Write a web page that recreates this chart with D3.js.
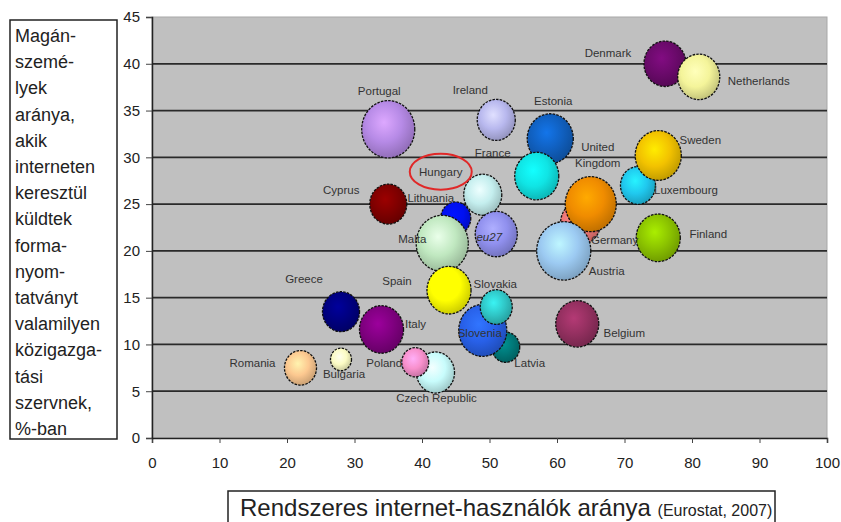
<!DOCTYPE html>
<html>
<head>
<meta charset="utf-8">
<script src="https://cdn.jsdelivr.net/npm/d3@7"></script>
<style>
  body { margin: 0; background: #fff; }
  text { font-family: "Liberation Sans", Arial, sans-serif; }
</style>
</head>
<body>
<div id="chart"></div>
<script>
// data (drawing order: later ones on top)
const countries = ["Denmark", "Netherlands", "Portugal", "Ireland", "Estonia", "France", "Luxembourg", "Sweden",
    "Germany", "United Kingdom", "Austria", "Finland", "Cyprus", "Hungary", "Lithuania", "Malta", "eu27",
    "Spain", "Greece", "Italy", "Latvia", "Slovenia", "Slovakia", "Belgium", "Romania", "Bulgaria",
    "Czech Republic", "Poland"];
const internetUsers = [76, 81, 35, 51, 59, 57, 72, 75, 63.5, 65, 61, 75, 35, 49, 45, 43, 51,
    44, 28, 34, 52.4, 49, 51, 63, 22, 28, 42, 39];
const formsSent = [40, 38.6, 33, 34, 32, 28, 27, 30.2, 23, 25, 20, 21.4, 25, 26, 23.5, 20.8, 21.8,
    15.8, 13.5, 11.6, 9.7, 11.5, 14, 12.2, 7.5, 8.4, 7, 8.1];
const bubbleSize = [441, 441, 702, 361, 529, 484, 306, 529, 400, 650, 729, 484, 342, 361, 225, 676, 441,
    484, 342, 484, 196, 576, 256, 462, 256, 110, 361, 182];
const xTicks = [0, 10, 20, 30, 40, 50, 60, 70, 80, 90, 100];
const yTicks = [0, 5, 10, 15, 20, 25, 30, 35, 40, 45];
const yTitleLines = ["Magán-", "szemé-", "lyek", "aránya,", "akik", "interneten", "keresztül", "küldtek",
    "forma-", "nyom-", "tatványt", "valamilyen", "közigazga-", "tási", "szervnek,", "%-ban"];

// styles
const colors = {
    "Denmark": "#6b0a6b", "Netherlands": "#f4f49a", "Portugal": "#b68ae6", "Ireland": "#b8b8ee",
    "Estonia": "#1060c0", "France": "#10e4e4", "Luxembourg": "#20c8ee", "Sweden": "#f2c200",
    "Germany": "#f07878", "United Kingdom": "#f08c00", "Austria": "#9ccaf2", "Finland": "#8cc400",
    "Cyprus": "#800000", "Hungary": "#c4eeee", "Lithuania": "#0010f0", "Malta": "#c0e8c0",
    "eu27": "#9090ee", "Spain": "#ffff00", "Greece": "#000080", "Italy": "#800080",
    "Latvia": "#007878", "Slovenia": "#2860e8", "Slovakia": "#30c8c8", "Belgium": "#943060",
    "Romania": "#fcc890", "Bulgaria": "#fcfcc4", "Czech Republic": "#c8fcfc", "Poland": "#f890cc"
};
// label offsets from bubble centre, px
const labelOffset = {
    "Denmark": [-57, -11], "Netherlands": [60, 4], "Portugal": [-9, -38], "Ireland": [-26, -30],
    "Estonia": [3, -38], "France": [-44, -23], "Luxembourg": [48, 5], "Sweden": [42, -15],
    "Germany": [34, 17], "United Kingdom": [7, -57], "Austria": [43, 20], "Finland": [50, -4],
    "Cyprus": [-47, -14], "Hungary": [-42, -23], "Lithuania": [-25, -20], "Malta": [-30, -4],
    "eu27": [-7, 3], "Spain": [-52, -9], "Greece": [-37, -33], "Italy": [34, -5],
    "Latvia": [24, 16], "Slovenia": [-3, 3], "Slovakia": [-1, -23], "Belgium": [47, 9],
    "Romania": [-48, -5], "Bulgaria": [3, 15], "Czech Republic": [1, 25], "Poland": [-31, 1]
};

const data = countries.map((c, i) => ({
    name: c, x: internetUsers[i], y: formsSent[i], size: bubbleSize[i], color: colors[c]
}));

const svgW = 841, svgH = 522;
const margin = {top: 17, right: 14, bottom: 84, left: 152};
const width = svgW - margin.left - margin.right;
const height = svgH - margin.top - margin.bottom;

const svg = d3.select("#chart").append("svg")
    .attr("width", svgW)
    .attr("height", svgH);

const defs = svg.append("defs");
data.forEach((d, i) => {
    let g = defs.append("radialGradient")
        .attr("id", "grad" + i)
        .attr("cx", "42%").attr("cy", "38%").attr("r", "62%");
    g.append("stop").attr("offset", "0%").attr("stop-color", d3.color(d.color).brighter(0.55));
    g.append("stop").attr("offset", "55%").attr("stop-color", d.color);
    g.append("stop").attr("offset", "100%").attr("stop-color", d3.color(d.color).darker(0.6));
});

const g = svg.append("g")
    .attr("transform", "translate(" + margin.left + "," + margin.top + ")");

const x = d3.scaleLinear().domain([0, 100]).range([0, width]);
const y = d3.scaleLinear().domain([0, 45]).range([height, 0]);
const r = d3.scaleSqrt().domain([0, 700]).range([0, 26.5]);

// plot area
g.append("rect")
    .attr("width", width)
    .attr("height", height)
    .attr("fill", "#c0c0c0")
    .attr("stroke", "#a8a8a8");

// gridlines
g.selectAll(".grid")
    .data(yTicks.filter(t => t > 0 && t < 45))
    .enter().append("line")
    .attr("x1", 0).attr("x2", width)
    .attr("y1", d => y(d)).attr("y2", d => y(d))
    .attr("stroke", "#2a2a2a")
    .attr("stroke-width", 1.8);

// axes
const xAxis = d3.axisBottom(x).tickValues(xTicks).tickSize(5).tickPadding(14);
const yAxis = d3.axisLeft(y).tickValues(yTicks).tickSize(6).tickPadding(6);

g.append("g")
    .attr("transform", "translate(0," + height + ")")
    .call(xAxis)
    .call(a => a.select(".domain").attr("stroke", "#222").attr("stroke-width", 1.5))
    .call(a => a.selectAll("line").attr("stroke", "#444"))
    .call(a => a.selectAll("text").attr("font-size", 15).attr("fill", "#222")
        .attr("font-family", "Liberation Sans"));

g.append("g")
    .call(yAxis)
    .call(a => a.select(".domain").attr("stroke", "#222").attr("stroke-width", 1.5))
    .call(a => a.selectAll("line").attr("stroke", "#444"))
    .call(a => a.selectAll("text").attr("font-size", 15).attr("fill", "#222")
        .attr("font-family", "Liberation Sans"));

// bubbles
g.selectAll(".bubble")
    .data(data)
    .enter().append("ellipse")
    .attr("class", "bubble")
    .attr("cx", d => x(d.x))
    .attr("cy", d => y(d.y))
    .attr("rx", d => r(d.size))
    .attr("ry", d => r(d.size) * 1.08)
    .attr("fill", (d, i) => "url(#grad" + i + ")")
    .attr("stroke", "#111")
    .attr("stroke-width", 1.3)
    .attr("stroke-dasharray", "2.5,1.2");

// labels
const labels = g.selectAll(".lbl")
    .data(data)
    .enter().append("text")
    .attr("class", "lbl")
    .attr("x", d => x(d.x) + labelOffset[d.name][0])
    .attr("y", d => y(d.y) + labelOffset[d.name][1] + 4)
    .attr("text-anchor", "middle")
    .attr("font-size", 11.5)
    .attr("fill", "#333")
    .attr("font-style", d => d.name == "eu27" ? "italic" : "normal");

labels.each(function(d) {
    let t = d3.select(this);
    if (d.name == "United Kingdom") {
        t.append("tspan").attr("x", t.attr("x")).text("United");
        t.append("tspan").attr("x", t.attr("x")).attr("dy", 16).text("Kingdom");
    } else {
        t.text(d.name);
    }
});

// red ring around the Hungary label
const hu = data.find(d => d.name == "Hungary");
g.append("ellipse")
    .attr("cx", x(hu.x) + labelOffset["Hungary"][0])
    .attr("cy", y(hu.y) + labelOffset["Hungary"][1])
    .attr("rx", 31)
    .attr("ry", 18)
    .attr("fill", "none")
    .attr("stroke", "#e02828")
    .attr("stroke-width", 2);

// y title box
const yBox = svg.append("g");
yBox.append("rect")
    .attr("x", 10).attr("y", 20)
    .attr("width", 107).attr("height", 419)
    .attr("fill", "#fff")
    .attr("stroke", "#222")
    .attr("stroke-width", 1.5);
yBox.selectAll("text")
    .data(yTitleLines)
    .enter().append("text")
    .attr("x", 15)
    .attr("y", (d, i) => 42 + i * 26.2)
    .attr("font-size", 18)
    .attr("fill", "#222")
    .text(d => d);

// x title box
const xBox = svg.append("g");
xBox.append("rect")
    .attr("x", 228).attr("y", 491)
    .attr("width", 547).attr("height", 40)
    .attr("fill", "#fff")
    .attr("stroke", "#222")
    .attr("stroke-width", 1.5);
const xt = xBox.append("text")
    .attr("x", 240).attr("y", 516)
    .attr("fill", "#222");
xt.append("tspan").attr("font-size", 24).text("Rendszeres internet-használók aránya ");
xt.append("tspan").attr("font-size", 16).text("(Eurostat, 2007)");
</script>
</body>
</html>
